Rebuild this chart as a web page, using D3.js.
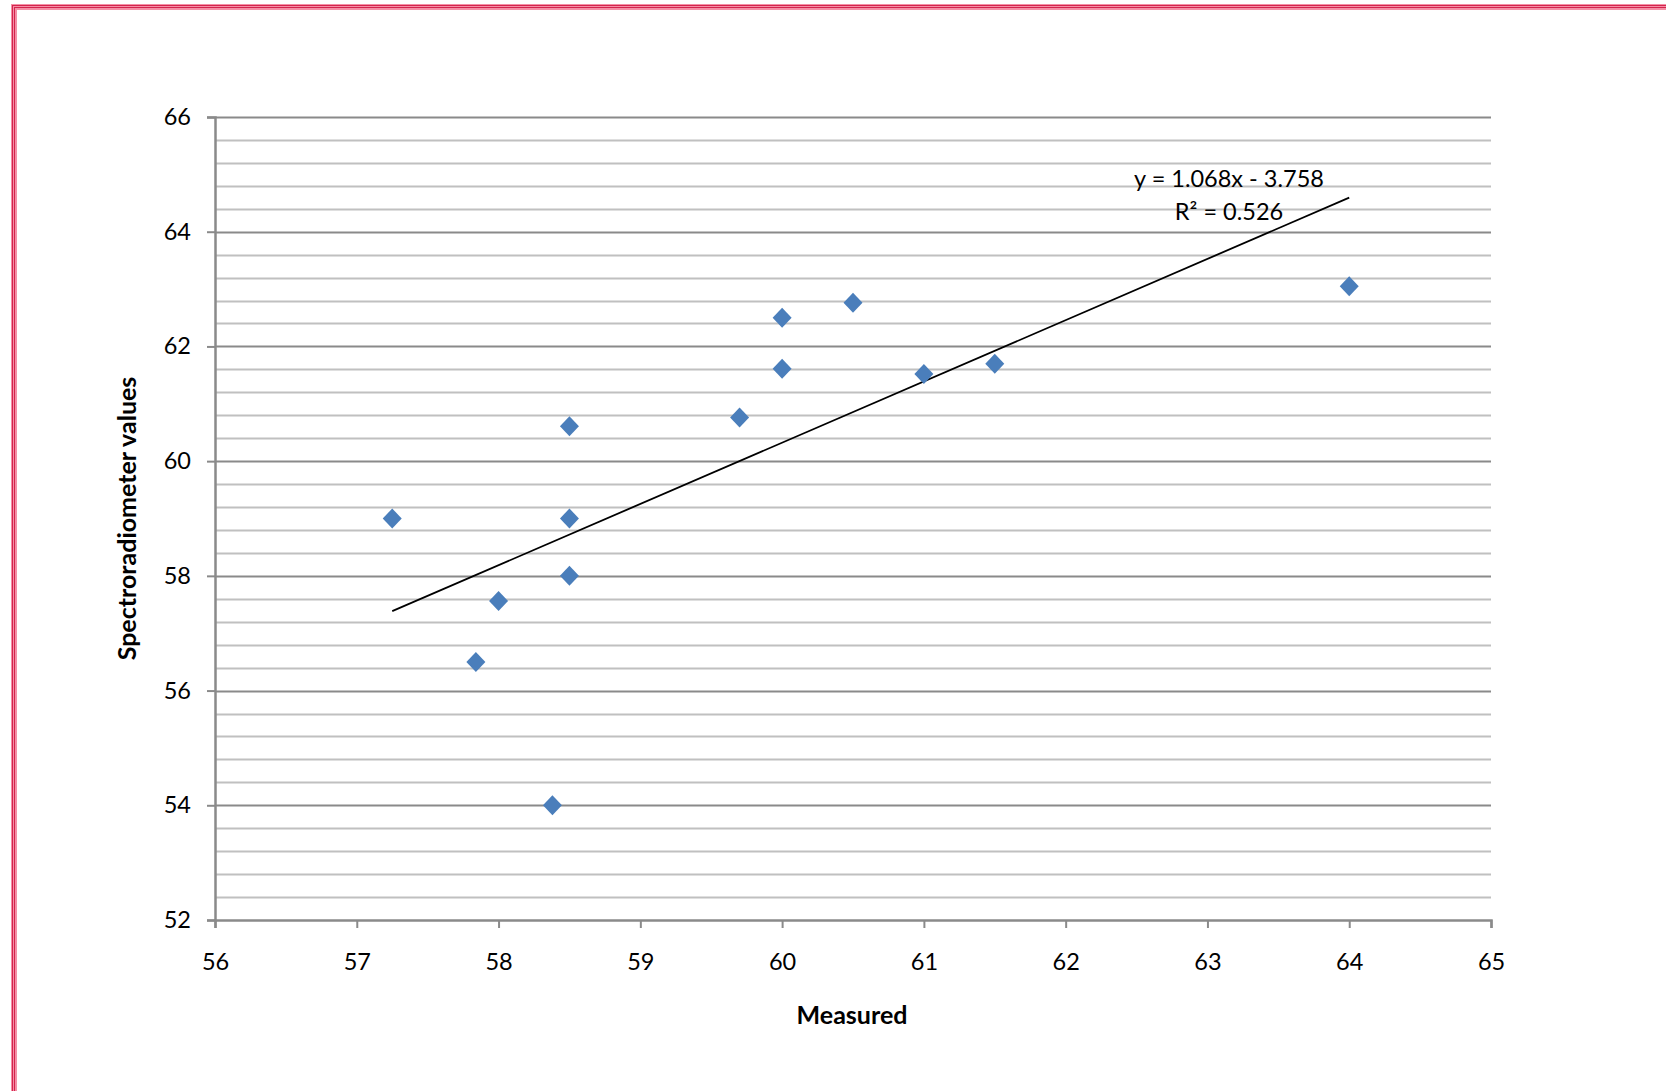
<!DOCTYPE html>
<html>
<head>
<meta charset="utf-8">
<script src="https://cdn.jsdelivr.net/npm/d3@7"></script>
<style>
  html, body { margin: 0; padding: 0; background: #fff; }
  svg { display: block; }
  text { font-family: Lato, "Open Sans", sans-serif; fill: #000; }
</style>
</head>
<body>
<script>
// ---- data ----
const measured = [57.25, 57.84, 58.0, 58.38, 58.5, 58.5, 58.5, 59.7, 60.0, 60.0, 60.5, 61.0, 61.5, 64.0];
const spectro  = [59.0, 56.5, 57.56, 54.0, 60.61, 59.0, 58.0, 60.76, 62.5, 61.61, 62.76, 61.52, 61.7, 63.05];
const xTicks = [56, 57, 58, 59, 60, 61, 62, 63, 64, 65];
const yTicks = [52, 54, 56, 58, 60, 62, 64, 66];
const trendSlope = 1.068;
const trendIntercept = -3.758;
const equationLines = ["y = 1.068x - 3.758", "R\u00B2 = 0.526"];
const xTitle = "Measured";
const yTitle = "Spectroradiometer values";

const W = 1666, H = 1091;
const svg = d3.select("body").append("svg").attr("width", W).attr("height", H);

// border
svg.append("rect").attr("x", 14).attr("y", 7).attr("width", W).attr("height", H)
  .attr("fill", "none").attr("stroke", "#f48fa5").attr("stroke-width", 6);
svg.append("rect").attr("x", 12.5).attr("y", 5.5).attr("width", W).attr("height", H)
  .attr("fill", "none").attr("stroke", "#d4244e").attr("stroke-width", 1);
svg.append("rect").attr("x", 14.5).attr("y", 7.5).attr("width", W).attr("height", H)
  .attr("fill", "none").attr("stroke", "#d4244e").attr("stroke-width", 1);

const L = 215, R = 1491, T = 117, B = 920;
const x = d3.scaleLinear().domain([56, 65]).range([L, R]);
const y = d3.scaleLinear().domain([52, 66]).range([B, T]);

// minor gridlines
const minor = d3.range(52, 66.0001, 0.4).filter(v => Math.abs(v / 2 - Math.round(v / 2)) > 0.01);
svg.append("g").selectAll("line").data(minor).join("line")
  .attr("x1", L).attr("x2", R)
  .attr("y1", d => Math.round(y(d)) + 0.5).attr("y2", d => Math.round(y(d)) + 0.5)
  .attr("stroke", "#c0c0c0").attr("stroke-width", 2);

// major gridlines
svg.append("g").selectAll("line").data(yTicks.filter(d => d !== 52)).join("line")
  .attr("x1", L).attr("x2", R)
  .attr("y1", d => Math.round(y(d)) + 0.5).attr("y2", d => Math.round(y(d)) + 0.5)
  .attr("stroke", "#8a8a8a").attr("stroke-width", 2);

// y axis
const yAxis = svg.append("g").attr("transform", `translate(${L},0)`)
  .call(d3.axisLeft(y).tickValues(yTicks).tickSize(8).tickPadding(16).tickFormat(d3.format("d")));
yAxis.select(".domain").attr("stroke", "#8a8a8a").attr("stroke-width", 2.5);
yAxis.selectAll(".tick line").attr("stroke", "#8a8a8a").attr("stroke-width", 2);
yAxis.selectAll(".tick text").style("font-size", "23.5px").style("font-family", "Lato, sans-serif").attr("fill", "#000");

// x axis
const xAxis = svg.append("g").attr("transform", `translate(0,${B})`)
  .call(d3.axisBottom(x).tickValues(xTicks).tickSize(8).tickPadding(25).tickFormat(d3.format("d")));
xAxis.select(".domain").attr("stroke", "#8a8a8a").attr("stroke-width", 2.5);
xAxis.selectAll(".tick line").attr("stroke", "#8a8a8a").attr("stroke-width", 2);
xAxis.selectAll(".tick text").style("font-size", "23.5px").style("font-family", "Lato, sans-serif").attr("fill", "#000");

// trendline
const xMin = d3.min(measured), xMax = d3.max(measured);
svg.append("line")
  .attr("x1", x(xMin)).attr("y1", y(trendSlope * xMin + trendIntercept))
  .attr("x2", x(xMax)).attr("y2", y(trendSlope * xMax + trendIntercept))
  .attr("stroke", "#000").attr("stroke-width", 1.8);

// points (diamonds)
const pts = measured.map((m, i) => [m, spectro[i]]);
svg.append("g").selectAll("path").data(pts).join("path")
  .attr("d", "M0,-10 L9.5,0 L0,10 L-9.5,0 Z")
  .attr("transform", d => `translate(${x(d[0])},${y(d[1])})`)
  .attr("fill", "#4a7ebb");

// equation
svg.append("g").selectAll("text").data(equationLines).join("text")
  .attr("x", 1229).attr("y", (d, i) => 187 + i * 33)
  .attr("text-anchor", "middle")
  .style("font-size", "23.5px")
  .text(d => d);

// axis titles
svg.append("text").attr("x", (L + R) / 2 - 1).attr("y", 1024)
  .attr("text-anchor", "middle").style("font-size", "25px").style("font-weight", "bold")
  .text(xTitle);
svg.append("text").attr("transform", `translate(136,${(T + B) / 2}) rotate(-90)`)
  .attr("text-anchor", "middle").style("font-size", "25px").style("font-weight", "bold")
  .text(yTitle);
</script>
</body>
</html>
